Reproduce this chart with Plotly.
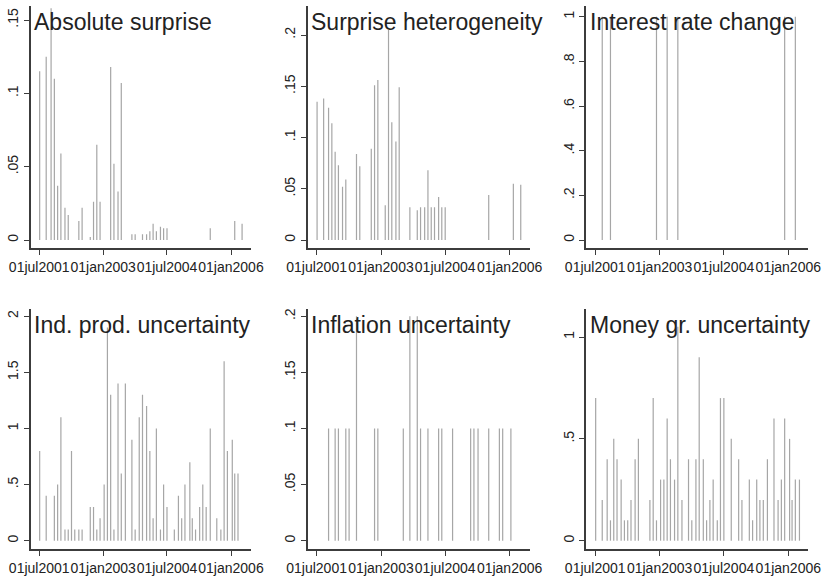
import plotly.graph_objects as go
from datetime import date, datetime, timedelta

# ---------------- data ----------------
meeting_dates = [
    "2001-07-05", "2001-08-30", "2001-10-11", "2001-11-08", "2001-12-06",
    "2002-01-03", "2002-02-07", "2002-03-07", "2002-04-04", "2002-05-02",
    "2002-06-06", "2002-07-04", "2002-08-01", "2002-09-12", "2002-10-10",
    "2002-11-07", "2002-12-05", "2003-01-09", "2003-02-06", "2003-03-06",
    "2003-04-03", "2003-05-08", "2003-06-05", "2003-07-10", "2003-07-31",
    "2003-09-04", "2003-10-02", "2003-11-06", "2003-12-04", "2004-01-08",
    "2004-02-05", "2004-03-04", "2004-04-01", "2004-05-06", "2004-06-02",
    "2004-07-01", "2004-08-05", "2004-09-02", "2004-10-07", "2004-11-04",
    "2004-12-02", "2005-01-13", "2005-02-03", "2005-03-03", "2005-04-07",
    "2005-05-04", "2005-06-02", "2005-07-07", "2005-08-04", "2005-09-01",
    "2005-10-06", "2005-11-03", "2005-12-01", "2006-01-12", "2006-02-02",
    "2006-03-02", "2006-04-06",
]

absolute_surprise = [
    .115, .125, .158, .110, .037, .059, .022, .017, 0, 0,
    .013, .022, 0, .002, .026, .065, .026, 0, 0, .118,
    .052, .033, .107, 0, 0, .004, .004, 0, .004, .004,
    .006, .011, .006, .009, .008, .008, 0, 0, 0, 0,
    0, 0, 0, 0, 0, 0, 0, .008, 0, 0,
    0, 0, 0, 0, .013, 0, .011,
]
surprise_heterogeneity = [
    .135, .138, .129, .114, .086, .073, .052, .059, 0, 0,
    .084, .072, 0, 0, .089, .151, .156, 0, .034, .205,
    .115, .096, .149, 0, 0, .032, 0, .029, .032, .032,
    .068, .032, .032, .042, .032, .032, 0, 0, 0, 0,
    0, 0, 0, 0, 0, 0, 0, .044, 0, 0,
    0, 0, 0, 0, .055, 0, .054,
]
interest_rate_change = [
    0, 1, 0, 1, 0, 0, 0, 0, 0, 0,
    0, 0, 0, 0, 0, 0, 1, 0, 0, 1,
    0, 0, 1, 0, 0, 0, 0, 0, 0, 0,
    0, 0, 0, 0, 0, 0, 0, 0, 0, 0,
    0, 0, 0, 0, 0, 0, 0, 0, 0, 0,
    0, 0, 1, 0, 0, 1, 0,
]
ind_prod_uncertainty = [
    .8, .4, 0, .4, .5, 1.1, .1, .1, .8, .1,
    .1, .1, 0, .3, .3, .1, .2, .5, 1.9, 1.3,
    .1, 1.4, .6, 1.4, 0, .9, .1, 1.1, 1.3, 1.2,
    .8, .2, 1.0, .1, .5, .3, 0, .1, .4, .2,
    .5, .7, .2, .1, .3, .5, .3, 1.0, 0, .2,
    .1, 1.6, .8, .9, .6, .6, 0,
]
inflation_uncertainty = [
    0, 0, .1, 0, .1, .1, 0, .1, .1, 0,
    .2, 0, 0, 0, 0, .1, .1, 0, 0, 0,
    0, 0, 0, .1, 0, .2, 0, .2, .1, 0,
    .1, 0, 0, .1, .1, 0, 0, .1, 0, 0,
    0, 0, .1, .1, .1, 0, 0, .1, 0, 0,
    .1, .1, 0, .1, 0, 0, 0,
]
money_growth_uncertainty = [
    .7, .2, .4, .1, .5, .4, .3, .1, .1, .2,
    .4, .5, 0, 0, .2, .7, .1, .3, .3, .6,
    .4, .3, 1.05, .2, 0, .4, .1, .4, .9, .4,
    .1, .2, .3, .1, .7, .7, 0, .5, 0, .4,
    .2, 0, .3, .1, .3, .2, .2, .4, 0, .6,
    .2, .3, .6, .5, .2, .3, .3,
]

panel_titles = [
    "Absolute surprise", "Surprise heterogeneity", "Interest rate change",
    "Ind. prod. uncertainty", "Inflation uncertainty", "Money gr. uncertainty",
]
panel_series = [
    absolute_surprise, surprise_heterogeneity, interest_rate_change,
    ind_prod_uncertainty, inflation_uncertainty, money_growth_uncertainty,
]
x_tick_dates = ["2001-07-01", "2003-01-01", "2004-07-01", "2006-01-01"]
x_tick_labels = ["01jul2001", "01jan2003", "01jul2004", "01jan2006"]
y_tick_values = [
    [0, .05, .1, .15],
    [0, .05, .1, .15, .2],
    [0, .2, .4, .6, .8, 1],
    [0, .5, 1, 1.5, 2],
    [0, .05, .1, .15, .2],
    [0, .5, 1],
]
y_tick_labels = [
    ["0", ".05", ".1", ".15"],
    ["0", ".05", ".1", ".15", ".2"],
    ["0", ".2", ".4", ".6", ".8", "1"],
    ["0", ".5", "1", "1.5", "2"],
    ["0", ".05", ".1", ".15", ".2"],
    ["0", ".5", "1"],
]

# ---------------- geometry (pixels) ----------------
W, H = 825, 578
cols = [
    dict(left=30.5, right=251, t_first=39.2, t_last=231.0),
    dict(left=307.5, right=530, t_first=316.6, t_last=509.6),
    dict(left=586.0, right=808, t_first=595.2, t_last=788.3),
]
rows = [
    dict(top=6, bottom=248),
    dict(top=309, bottom=549),
]
# (pixel of y=0, pixel of top tick) per panel
y_pix = [(240, 20), (240, 35), (240, 16.7), (540.7, 316.3), (540.7, 316.3), (540.7, 337)]

FONT = "Arial, Liberation Sans, sans-serif"
AXC = "#3c3c3c"

fig = go.Figure()
d_first = datetime.fromisoformat(x_tick_dates[0])
d_last = datetime.fromisoformat(x_tick_dates[-1])
span_days = (d_last - d_first).days

annotations = []
for i in range(6):
    r, c = divmod(i, 3)
    col, row = cols[c], rows[r]
    n = i + 1
    xa = "x" if n == 1 else f"x{n}"
    ya = "y" if n == 1 else f"y{n}"

    xs, ys = [], []
    for d, v in zip(meeting_dates, panel_series[i]):
        if v:
            xs += [d, d, None]
            ys += [0, v, None]
    fig.add_trace(go.Scatter(
        x=xs, y=ys, mode="lines", xaxis=xa, yaxis=ya,
        line=dict(color="#a6a6a6", width=1.2), hoverinfo="skip", showlegend=False,
    ))

    # x range
    kx = (col["t_last"] - col["t_first"]) / span_days
    x0 = d_first - timedelta(days=(col["t_first"] - col["left"]) / kx)
    x1 = d_first + timedelta(days=(col["right"] - col["t_first"]) / kx)
    # y range
    p0, ptop = y_pix[i]
    vtop = y_tick_values[i][-1]
    ky = (p0 - ptop) / vtop
    y0 = -(row["bottom"] - p0) / ky
    y1 = (p0 - row["top"]) / ky

    common = dict(showline=True, linecolor=AXC, linewidth=1.6, ticks="outside",
                  ticklen=5, tickwidth=1.3, tickcolor=AXC, showgrid=False,
                  zeroline=False, fixedrange=True, automargin=False,
                  tickfont=dict(family=FONT, size=14, color="#222"))
    fig.layout[f"xaxis{'' if n == 1 else n}"] = dict(
        common, type="date", domain=[col["left"] / W, col["right"] / W],
        anchor=ya, range=[x0.isoformat(sep=" "), x1.isoformat(sep=" ")],
        tickmode="array", tickvals=x_tick_dates, ticktext=x_tick_labels,
        tickangle=0,
    )
    fig.layout[f"yaxis{'' if n == 1 else n}"] = dict(
        common, domain=[1 - row["bottom"] / H, 1 - row["top"] / H],
        anchor=xa, range=[y0, y1], tickmode="array",
        tickvals=y_tick_values[i], ticktext=y_tick_labels[i], tickangle=-90,
    )
    annotations.append(dict(
        text=panel_titles[i], xref="paper", yref="paper",
        x=(col["left"] + 1.5) / W, y=1 - (row["top"] + 16) / H,
        xanchor="left", yanchor="middle", showarrow=False,
        font=dict(family=FONT, size=23, color="#222"),
    ))

fig.update_layout(
    width=W, height=H, autosize=False,
    margin=dict(l=0, r=0, t=0, b=0),
    paper_bgcolor="white", plot_bgcolor="white",
    annotations=annotations,
)
fig.write_html("out.html")
